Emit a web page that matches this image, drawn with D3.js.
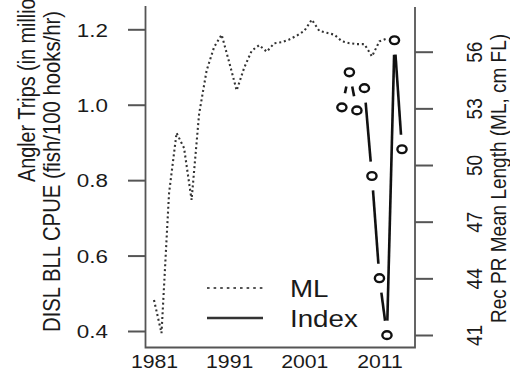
<!DOCTYPE html>
<html><head><meta charset="utf-8">
<script src="https://cdn.jsdelivr.net/npm/d3@7/dist/d3.min.js"></script>
<style>html,body{margin:0;padding:0;background:#fff;overflow:hidden}</style>
</head><body>
<script>
// ---- data ----
const mlYears = [1981,1982,1983,1984,1985,1986,1987,1988,1989,1990,1991,1992,1993,1994,1995,1996,
                 1997,1998,1999,2000,2001,2002,2003,2004,2005,2006,2007,2008,2009,2010,2011,2012];
const mlValues = [42.85,41.1,48.5,51.7,50.9,48.15,52.7,55.0,56.25,56.9,55.45,53.95,55.15,56.05,56.35,56.0,
                  56.45,56.5,56.65,56.85,57.1,57.7,57.1,57.0,56.9,56.55,56.45,56.4,56.4,55.75,56.55,56.7];
const idxYears = [2006,2007,2008,2009,2010,2011,2012,2013,2014];
const idxValues = [0.993,1.086,0.985,1.044,0.811,0.540,0.389,1.171,0.882];
const xTicks = [1981,1991,2001,2011];
const leftTicks = [0.4,0.6,0.8,1.0,1.2];
const rightTicks = [41,44,47,50,53,56];
const legendLabels = ["ML","Index"];
const leftTitle1 = "Angler Trips (in millions)";
const leftTitle2 = "DISL BLL CPUE (fish/100 hooks/hr)";
const rightTitle = "Rec PR Mean Length (ML, cm FL)";

// ---- layout ----
const W = 510, H = 372;
const SX = 1.18;
const FONT = "'Liberation Sans', Arial, Helvetica, sans-serif";
const box = {left:145.5, right:415, top:6, bottom:347.5};

const svg = d3.select("body").append("svg").attr("width",W).attr("height",H)
  .style("font-family",FONT);
svg.append("rect").attr("width",W).attr("height",H).attr("fill","#fff");

const x = d3.scaleLinear().domain([1981,2014]).range([154,402]);
const yL = d3.scaleLinear().domain([0.4,1.2]).range([331,29.3]);
const yR = d3.scaleLinear().domain([41,56]).range([335,51.7]);

const axisCol = "#555", textCol = "#1a1a1a";

// box (no top)
svg.append("path")
  .attr("d",`M${box.left},${box.top}V${box.bottom}H${box.right}V${box.top+1}`)
  .attr("fill","none").attr("stroke",axisCol).attr("stroke-width",1.8);

// left axis
const gL = svg.append("g").attr("transform",`translate(${box.left},0)`)
  .call(d3.axisLeft(yL).tickValues(leftTicks).tickSize(17.5).tickFormat(d3.format(".1f")));
gL.select(".domain").remove();
gL.selectAll("line").attr("stroke",axisCol).attr("stroke-width",2);
gL.selectAll("text").attr("x",-37.5/SX).attr("dy","0.36em").attr("transform",`scale(${SX},1)`)
  .attr("fill",textCol).style("font-size","19px").style("font-family",FONT);

// right axis
const gR = svg.append("g").attr("transform",`translate(${box.right},0)`)
  .call(d3.axisRight(yR).tickValues(rightTicks).tickSize(18));
gR.select(".domain").remove();
gR.selectAll("line").attr("stroke",axisCol).attr("stroke-width",2);
gR.selectAll("text").attr("x",0).attr("dy",0).attr("text-anchor","middle")
  .attr("transform",`translate(67,0) scale(${SX},1) rotate(-90)`)
  .attr("fill",textCol).style("font-size","19px").style("font-family",FONT);

// bottom axis (labels only)
const gB = svg.append("g").attr("transform",`translate(0,${box.bottom})`)
  .call(d3.axisBottom(x).tickValues(xTicks).tickSize(0).tickFormat(d3.format("d")));
gB.select(".domain").remove();
gB.selectAll("line").remove();
gB.selectAll("text").attr("y",0).attr("dy",0)
  .attr("transform",`translate(0,20.5) scale(${SX},1)`)
  .attr("fill",textCol).style("font-size","18px").style("font-family",FONT);

// titles
function rotText(tx,ty,txt,anchor,size){
  svg.append("text").attr("transform",`translate(${tx},${ty}) scale(${SX},1) rotate(-90)`)
    .attr("text-anchor",anchor).attr("fill",textCol).style("font-size",size+"px").text(txt);
}
rotText(505.5,178.5,rightTitle,"middle",19);
rotText(59.5,332,leftTitle2,"start",20.3);
rotText(35,182,leftTitle1,"start",19.8);

// ML dotted line
svg.append("path").datum(mlYears.map((yr,i)=>[yr,mlValues[i]]))
  .attr("d",d3.line().x(d=>x(d[0])).y(d=>yR(d[1])))
  .attr("fill","none").attr("stroke","#333").attr("stroke-width",2.1)
  .attr("stroke-dasharray","2,2.8");

// Index: type "b" (points + gapped segments)
const pts = idxYears.map((yr,i)=>({px:x(yr),py:yL(idxValues[i])}));
const gap = 14.5;
const segs = [];
for(let i=0;i<pts.length-1;i++){
  const a=pts[i], b=pts[i+1];
  const dx=b.px-a.px, dy=b.py-a.py, L=Math.hypot(dx,dy);
  if(L>2*gap){
    const ux=dx/L, uy=dy/L;
    segs.push({x1:a.px+ux*gap,y1:a.py+uy*gap,x2:b.px-ux*gap,y2:b.py-uy*gap});
  }
}
svg.append("g").selectAll("line").data(segs).join("line")
  .attr("x1",d=>d.x1).attr("y1",d=>d.y1).attr("x2",d=>d.x2).attr("y2",d=>d.y2)
  .attr("stroke","#111").attr("stroke-width",2.6);
svg.append("g").selectAll("ellipse").data(pts).join("ellipse")
  .attr("cx",d=>d.px).attr("cy",d=>d.py).attr("rx",4.6).attr("ry",3.9)
  .attr("fill","none").attr("stroke","#111").attr("stroke-width",2.4);

// legend
const leg = svg.append("g");
[0,1].forEach(i=>{
  const yy = 288 + i*30;
  leg.append("line").attr("x1",207).attr("x2",263).attr("y1",yy).attr("y2",yy)
    .attr("stroke", i===0 ? "#555" : "#333").attr("stroke-width", i===0 ? 2 : 2.6)
    .attr("stroke-dasharray", i===0 ? "2.6,4" : null);
  leg.append("text").attr("transform",`translate(290,${yy+9}) scale(${SX},1)`)
    .attr("fill",textCol).style("font-size","23.5px").text(legendLabels[i]);
});
</script>
</body></html>
